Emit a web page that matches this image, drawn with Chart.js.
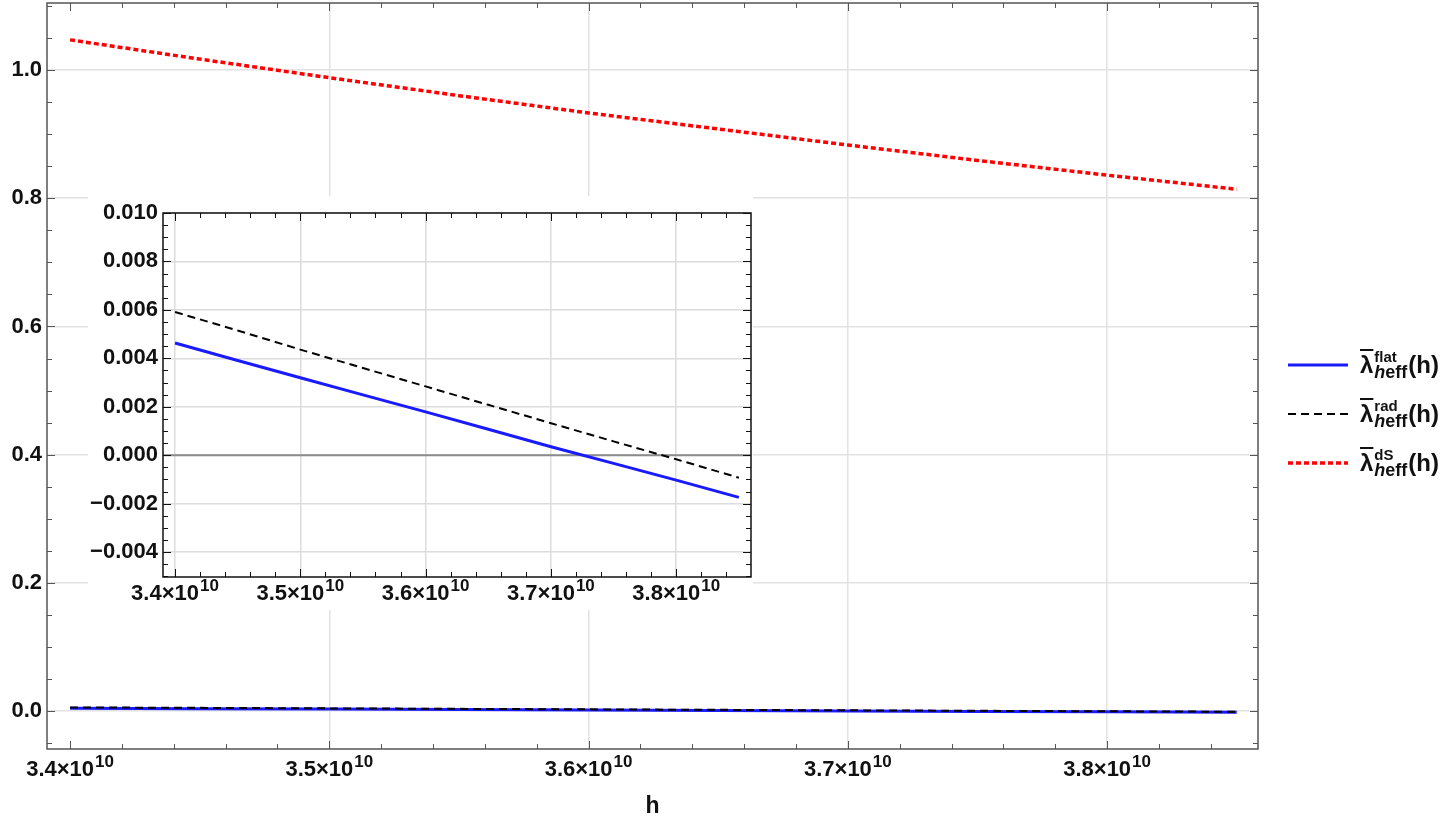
<!DOCTYPE html>
<html>
<head>
<meta charset="utf-8">
<script src="https://cdn.jsdelivr.net/npm/chart.js@4.4.1/dist/chart.umd.min.js"></script>
<style>
  html, body { margin: 0; padding: 0; background: #fff; }
  #wrap { position: relative; width: 1454px; height: 820px; overflow: hidden; font-family: "Liberation Sans", Arial, sans-serif; }
  #mainChart { position: absolute; left: 0; top: 0; }
  #insetBox { position: absolute; left: 88px; top: 196px; width: 665px; height: 414px; background: #fff; }
  #legend { position: absolute; left: 1288px; top: 340px; color: #111; }
  .row { display: flex; align-items: center; height: 49px; }
  .row svg { width: 62px; height: 10px; margin-right: 10px; }
  .lab { display: flex; align-items: center; font-weight: bold; font-size: 24px; }
  .lam { text-decoration: overline; text-decoration-thickness: 1.5px; }
  .ss { display: inline-flex; flex-direction: column; line-height: 15px; margin-left: 1px; margin-right: 1px; }
  .ss .up { font-size: 15px; }
  .ss .dn { font-size: 18px; line-height: 17px; }
  .ss .dn i { font-style: italic; }
</style>
</head>
<body>
<div id="wrap">
  <canvas id="mainChart" width="1454" height="820"></canvas>
  <div id="insetBox"><canvas id="insetChart" width="665" height="414"></canvas></div>
  <div id="legend">
    <div class="row">
      <svg><line x1="0" y1="5" x2="60" y2="5" stroke="#1a1aff" stroke-width="3"/></svg>
      <span class="lab"><span class="lam">λ</span><span class="ss"><span class="up">flat</span><span class="dn"><i>h</i>eff</span></span>(h)</span>
    </div>
    <div class="row">
      <svg><line x1="0" y1="5" x2="60" y2="5" stroke="#000" stroke-width="2" stroke-dasharray="8 5"/></svg>
      <span class="lab"><span class="lam">λ</span><span class="ss"><span class="up">rad</span><span class="dn"><i>h</i>eff</span></span>(h)</span>
    </div>
    <div class="row">
      <svg><line x1="0" y1="5" x2="60" y2="5" stroke="#ff0000" stroke-width="3.5" stroke-dasharray="5 3"/></svg>
      <span class="lab"><span class="lam">λ</span><span class="ss"><span class="up">dS</span><span class="dn"><i>h</i>eff</span></span>(h)</span>
    </div>
  </div>
</div>
<script>
// sample points along h
const hValues = [3.40e10, 3.45e10, 3.50e10, 3.55e10, 3.60e10, 3.65e10, 3.70e10, 3.75e10, 3.80e10, 3.85e10];
// lambda values
const flatValues = [0.00463, 0.00391, 0.00320, 0.00249, 0.00179, 0.00107, 0.00035, -0.00034, -0.00103, -0.00174];
const radValues = [0.00591, 0.00515, 0.00436, 0.00360, 0.00284, 0.00208, 0.00132, 0.00057, -0.00017, -0.00093];
const dsValues = [1.047, 1.017, 0.988, 0.960, 0.933, 0.908, 0.883, 0.859, 0.836, 0.814];

// tick values
const xTicks = [3.4e10, 3.5e10, 3.6e10, 3.7e10, 3.8e10];
const mainYTicks = [0.0, 0.2, 0.4, 0.6, 0.8, 1.0];
const insetYTicks = [-0.004, -0.002, 0.000, 0.002, 0.004, 0.006, 0.008, 0.010];

const FONT = '"Liberation Sans", Arial, sans-serif';

function toPoints(vals) {
    return hValues.map((h, i) => ({ x: h, y: vals[i] }));
}

function makeDatasets(withDS) {
    const sets = [
        { label: 'rad', data: toPoints(radValues), borderColor: '#000', borderWidth: 2, borderDash: [8, 5] },
        { label: 'flat', data: toPoints(flatValues), borderColor: '#1a1aff', borderWidth: 3 }
    ];
    if (withDS) {
        sets.push({ label: 'dS', data: toPoints(dsValues), borderColor: '#ff0000', borderWidth: 3.5, borderDash: [5, 3] });
    }
    sets.forEach(s => { s.pointRadius = 0; s.fill = false; s.tension = 0; });
    return sets;
}

// frame, inward ticks, zero line and x labels with superscripts
function framePlugin(o) {
    return {
        id: 'frame',
        beforeDatasetsDraw(chart) {
            if (!o.zeroLine) return;
            const { ctx, chartArea: a, scales: { y } } = chart;
            const py = y.getPixelForValue(0);
            ctx.save();
            ctx.strokeStyle = '#8c8c8c';
            ctx.lineWidth = 2;
            ctx.beginPath();
            ctx.moveTo(a.left, py);
            ctx.lineTo(a.right, py);
            ctx.stroke();
            ctx.restore();
        },
        afterDraw(chart) {
            const { ctx, chartArea: a, scales: { x, y } } = chart;
            ctx.save();
            ctx.strokeStyle = o.frameColor;
            ctx.lineWidth = 1;
            // x ticks
            for (let i = Math.ceil(x.min / o.xStep); i <= Math.floor(x.max / o.xStep); i++) {
                const px = Math.round(x.getPixelForValue(i * o.xStep)) + 0.5;
                const len = i % o.xMajor === 0 ? 8 : 5;
                ctx.beginPath();
                ctx.moveTo(px, a.bottom); ctx.lineTo(px, a.bottom - len);
                ctx.moveTo(px, a.top); ctx.lineTo(px, a.top + len);
                ctx.stroke();
            }
            // y ticks
            for (let i = Math.ceil(y.min / o.yStep - 1e-9); i <= Math.floor(y.max / o.yStep + 1e-9); i++) {
                const py = Math.round(y.getPixelForValue(i * o.yStep)) + 0.5;
                const len = i % o.yMajor === 0 ? 8 : 5;
                ctx.beginPath();
                ctx.moveTo(a.left, py); ctx.lineTo(a.left + len, py);
                ctx.moveTo(a.right, py); ctx.lineTo(a.right - len, py);
                ctx.stroke();
            }
            ctx.lineWidth = o.frameWidth;
            ctx.strokeRect(a.left, a.top, a.right - a.left, a.bottom - a.top);

            // x tick labels like 3.4×10^10
            ctx.fillStyle = '#111';
            ctx.textBaseline = 'alphabetic';
            ctx.textAlign = 'left';
            xTicks.forEach(v => {
                const base = (v / 1e10).toFixed(1) + '×10';
                ctx.font = 'bold 22px ' + FONT;
                const wb = ctx.measureText(base).width + 1;
                ctx.font = 'bold 17px ' + FONT;
                const ws = ctx.measureText('10').width;
                const start = x.getPixelForValue(v) - (wb + ws) / 2;
                const by = a.bottom + o.labelOffset;
                ctx.font = 'bold 22px ' + FONT;
                ctx.fillText(base, start, by);
                ctx.font = 'bold 17px ' + FONT;
                ctx.fillText('10', start + wb, by - 9);
            });

            if (o.title) {
                ctx.font = 'bold 23px ' + FONT;
                ctx.textAlign = 'center';
                ctx.fillText(o.title, (a.left + a.right) / 2, o.titleY);
            }
            ctx.restore();
        }
    };
}

function gridColor(ctx) {
    return ctx.tick && Math.abs(ctx.tick.value - 3.4e10) < 1 ? 'rgba(0,0,0,0)' : '#e2e2e2';
}

function noPad(s) {
    s.paddingTop = 0;
    s.paddingBottom = 0;
}

// Main chart
new Chart(document.getElementById('mainChart'), {
    type: 'line',
    data: { datasets: makeDatasets(true) },
    options: {
        responsive: false,
        animation: false,
        layout: { padding: { top: 3, right: 196, left: 0, bottom: 0 } },
        plugins: { legend: { display: false }, tooltip: { enabled: false } },
        scales: {
            x: {
                type: 'linear',
                min: 3.3911e10,
                max: 3.8582e10,
                afterBuildTicks: s => { s.ticks = xTicks.map(v => ({ value: v })); },
                afterFit: s => { s.height = 71; s.paddingLeft = 0; s.paddingRight = 0; },
                ticks: { display: false },
                border: { display: false },
                grid: { color: gridColor, lineWidth: 1.5, drawTicks: false }
            },
            y: {
                type: 'linear',
                min: -0.059,
                max: 1.1045,
                afterBuildTicks: s => { s.ticks = mainYTicks.map(v => ({ value: v })); },
                afterFit: s => { s.width = 47; noPad(s); },
                ticks: {
                    padding: 5,
                    color: '#111',
                    font: { family: FONT, weight: 'bold', size: 22 },
                    callback: v => v.toFixed(1)
                },
                border: { display: false },
                grid: { color: '#e2e2e2', lineWidth: 1.5, drawTicks: false }
            }
        }
    },
    plugins: [framePlugin({ frameColor: '#555', frameWidth: 1.5, xStep: 2e8, xMajor: 5, yStep: 0.05, yMajor: 4, labelOffset: 27, title: 'h', titleY: 813 })]
});

// Inset chart
new Chart(document.getElementById('insetChart'), {
    type: 'line',
    data: { datasets: makeDatasets(false) },
    options: {
        responsive: false,
        animation: false,
        layout: { padding: { top: 17, right: 2, left: 0, bottom: 0 } },
        plugins: { legend: { display: false }, tooltip: { enabled: false } },
        scales: {
            x: {
                type: 'linear',
                min: 3.3904e10,
                max: 3.8597e10,
                afterBuildTicks: s => { s.ticks = xTicks.map(v => ({ value: v })); },
                afterFit: s => { s.height = 33; s.paddingLeft = 0; s.paddingRight = 0; },
                ticks: { display: false },
                border: { display: false },
                grid: { color: '#dcdcdc', lineWidth: 1.5, drawTicks: false }
            },
            y: {
                type: 'linear',
                min: -0.00503,
                max: 0.0100,
                afterBuildTicks: s => { s.ticks = insetYTicks.map(v => ({ value: v })); },
                afterFit: s => { s.width = 75; noPad(s); },
                ticks: {
                    padding: 5,
                    color: '#111',
                    font: { family: FONT, weight: 'bold', size: 22 },
                    callback: v => (v < -1e-9 ? '\u2212' : '') + Math.abs(v).toFixed(3)
                },
                border: { display: false },
                grid: { color: '#dcdcdc', lineWidth: 1.5, drawTicks: false }
            }
        }
    },
    plugins: [framePlugin({ frameColor: '#111', frameWidth: 1.5, xStep: 2e8, xMajor: 5, yStep: 0.0005, yMajor: 4, labelOffset: 23, zeroLine: true })]
});
</script>
</body>
</html>
